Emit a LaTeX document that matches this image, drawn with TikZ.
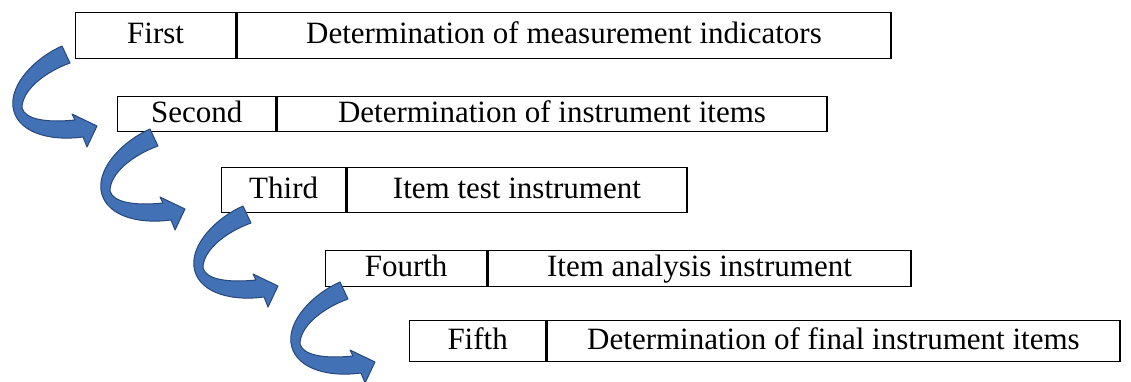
\documentclass[tikz,border=0pt]{standalone}
\usepackage{fontspec}
\setmainfont{Liberation Serif}
\begin{document}
\begin{tikzpicture}[x=1pt,y=-1pt,
  cell/.style={draw=black,line width=1.3pt,inner sep=0pt,anchor=north west,
    font=\fontsize{31}{34}\selectfont,text height=22pt,text depth=6pt},
  arrowstyle/.style={fill={rgb,255:red,66;green,113;blue,182},draw={rgb,255:red,38;green,72;blue,122},line width=1pt,line join=round},
  curvearrow/.pic={
    \filldraw[arrowstyle] (62,46) .. controls (35,58) and (10,84) .. (13,107)
      .. controls (16,130) and (45,142) .. (83,137)
      -- (87,147) -- (97,126) -- (72,114) -- (75,120)
      .. controls (45,123) and (25,119) .. (22,108)
      .. controls (22,90) and (45,72) .. (70,63) -- cycle;
  }]
\useasboundingbox (0,0) rectangle (1131,381);
\fill[white] (0,0) rectangle (1131,381);

\node[cell,minimum width=160pt,minimum height=46pt] (l1) at (75,12) {First};
\node[cell,minimum width=654pt,minimum height=46pt] (r1) at (l1.north east) {Determination of measurement indicators};

\node[cell,minimum width=158pt,minimum height=35pt] (l2) at (117,96) {Second};
\node[cell,minimum width=550pt,minimum height=35pt] (r2) at (l2.north east) {Determination of instrument items};

\node[cell,minimum width=124pt,minimum height=45pt] (l3) at (221,167) {Third};
\node[cell,minimum width=340pt,minimum height=45pt] (r3) at (l3.north east) {Item test instrument};

\node[cell,minimum width=161pt,minimum height=36pt] (l4) at (325,250) {Fourth};
\node[cell,minimum width=423pt,minimum height=36pt] (r4) at (l4.north east) {Item analysis instrument};

\node[cell,minimum width=136pt,minimum height=41pt] (l5) at (409,320) {Fifth};
\node[cell,minimum width=573pt,minimum height=41pt] (r5) at (l5.north east) {Determination of final instrument items};

\pic at (0,0) {curvearrow};
\pic at (88,83) {curvearrow};
\pic at (181,160) {curvearrow};
\pic at (278,236) {curvearrow};
\end{tikzpicture}
\end{document}
